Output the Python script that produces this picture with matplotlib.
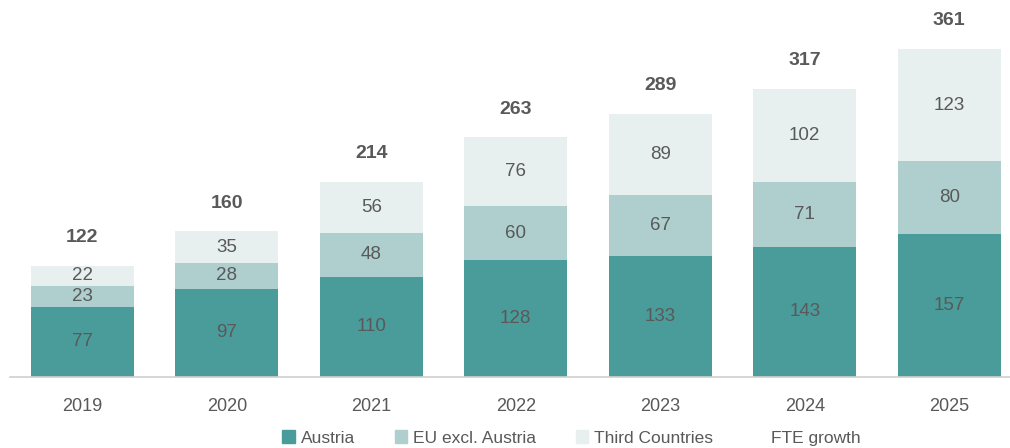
import numpy as np
import matplotlib.pyplot as plt
from matplotlib.patches import Patch
from matplotlib.lines import Line2D

plt.rcParams['font.family'] = ['Liberation Sans', 'DejaVu Sans']

years = ["2019", "2020", "2021", "2022", "2023", "2024", "2025"]
austria = [77, 97, 110, 128, 133, 143, 157]
eu = [23, 28, 48, 60, 67, 71, 80]
third = [22, 35, 56, 76, 89, 102, 123]
totals = [122, 160, 214, 263, 289, 317, 361]

c_at = "#4a9c9b"
c_eu = "#aecfce"
c_tc = "#e7efef"
txt = "#595959"

fig = plt.figure(figsize=(10.1, 4.48), dpi=100)
ax = fig.add_axes([10 / 1010, 71 / 448, 1000 / 1010, 377 / 448])

x = np.arange(len(years))
w = 0.71
b1 = ax.bar(x, austria, w, color=c_at)
b2 = ax.bar(x, eu, w, bottom=austria, color=c_eu)
bot3 = np.array(austria) + np.array(eu)
b3 = ax.bar(x, third, w, bottom=bot3, color=c_tc)

for vals, bottoms in [(austria, np.zeros(7)), (eu, np.array(austria)), (third, bot3)]:
    for i, v in enumerate(vals):
        ax.text(x[i], bottoms[i] + v / 2, str(v), ha="center", va="center",
                fontsize=13.5, color=txt)

# FTE growth totals, written above each stack
for i, t in enumerate(totals):
    ax.text(x[i], t + 31, str(t), ha="center", va="center", fontsize=14,
            fontweight="bold", color=txt)

ax.set_xlim(-0.5, 6.42)
ax.set_ylim(0, 414)
ax.set_xticks(x)
ax.set_xticklabels(years, fontsize=13, color=txt)
ax.tick_params(axis="x", length=0, pad=15)
ax.set_yticks([])
for s in ["top", "right", "left"]:
    ax.spines[s].set_visible(False)
ax.spines["bottom"].set_color("#d0d0d0")
ax.spines["bottom"].set_linewidth(1.2)

handles = [Patch(color=c_at), Patch(color=c_eu), Patch(color=c_tc),
           Line2D([], [], color="none")]
labels = ["Austria", "EU excl. Austria", "Third Countries", "FTE growth"]
fig.legend(handles, labels, loc="center", bbox_to_anchor=(0.566, 10 / 448),
           ncol=4, frameon=False, handlelength=0.7, handleheight=0.7,
           columnspacing=2.3, handletextpad=0.35, labelcolor=txt,
           prop={'size': 12.5})

fig.savefig("out.png", dpi=100)
